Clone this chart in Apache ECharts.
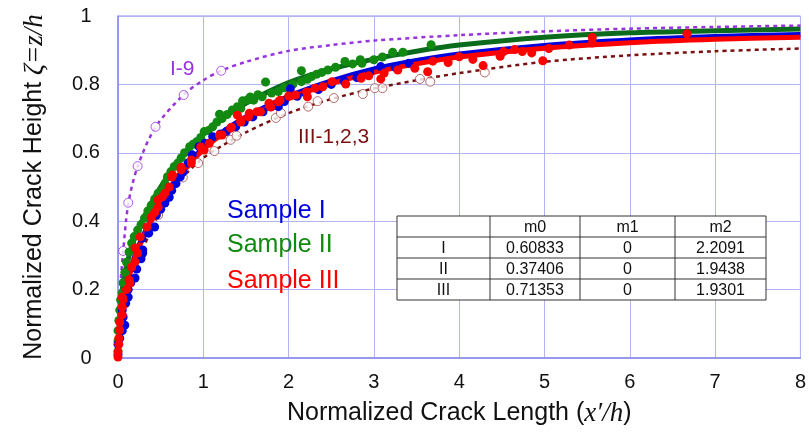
<!DOCTYPE html>
<html><head><meta charset="utf-8">
<script src="https://cdn.jsdelivr.net/npm/echarts@6/dist/echarts.min.js"></script>
<style>html,body{margin:0;padding:0;background:#fff}#c{width:809px;height:437px}</style>
</head><body><div id="c"></div>
<script>
// ---- data ----
const xTicks = [0,1,2,3,4,5,6,7,8];
const yTicks = [0,0.2,0.4,0.6,0.8,1];

const sampleII = [[0,0.02],[0,0.05],[0,0.08],[0.01,0.11],[0.02,0.14],[0.03,0.17],[0.05,0.19],[0.06,0.22],[0.08,0.25],[0.1,0.28],[0.13,0.31],[0.16,0.336],[0.19,0.355],[0.23,0.374],[0.27,0.39],[0.31,0.409],[0.35,0.43],[0.39,0.447],[0.43,0.465],[0.47,0.482],[0.51,0.49],[0.55,0.51],[0.58,0.53],[0.62,0.545],[0.66,0.56],[0.7,0.57],[0.74,0.585],[0.78,0.6],[0.84,0.618],[0.88,0.625],[0.92,0.632],[0.97,0.645],[1.01,0.662],[1.06,0.665],[1.11,0.676],[1.16,0.69],[1.19,0.713],[1.22,0.70],[1.28,0.712],[1.34,0.725],[1.40,0.735],[1.44,0.73],[1.46,0.752],[1.52,0.755],[1.55,0.763],[1.59,0.754],[1.64,0.77],[1.69,0.764],[1.73,0.807],[1.80,0.775],[1.88,0.779],[1.95,0.79],[2.05,0.80],[2.15,0.808],[2.15,0.84],[2.22,0.815],[2.27,0.823],[2.33,0.83],[2.39,0.835],[2.46,0.842],[2.55,0.85],[2.66,0.867],[2.75,0.86],[2.84,0.872],[2.86,0.862],[3.0,0.872],[3.1,0.88],[3.22,0.894],[3.34,0.894],[3.67,0.916]];

const sampleI = [[0,0.01],[0,0.04],[0.02,0.058],[0.05,0.08],[0.08,0.096],[0.06,0.12],[0.05,0.14],[0.09,0.16],[0.12,0.178],[0.12,0.2],[0.15,0.22],[0.2,0.234],[0.22,0.26],[0.27,0.29],[0.29,0.307],[0.29,0.316],[0.28,0.35],[0.36,0.365],[0.43,0.383],[0.45,0.418],[0.5,0.435],[0.55,0.453],[0.6,0.47],[0.63,0.49],[0.68,0.51],[0.73,0.53],[0.76,0.544],[0.82,0.57],[0.87,0.594],[0.95,0.618],[1.02,0.628],[1.11,0.647],[1.2,0.655],[1.27,0.662],[1.38,0.676],[1.48,0.69],[1.58,0.705],[1.7,0.72],[1.8,0.735],[1.88,0.735],[1.95,0.75],[2.02,0.787],[2.1,0.765],[2.2,0.775],[2.35,0.785],[2.5,0.8],[2.65,0.81],[2.8,0.82],[2.95,0.835],[3.08,0.852],[3.25,0.85],[3.41,0.862]];

const sampleIII = [[0,0.003],[0,0.018],[0.01,0.04],[0.01,0.058],[0.02,0.082],[0.02,0.105],[0.05,0.126],[0.05,0.149],[0.06,0.17],[0.05,0.178],[0.1,0.2],[0.13,0.228],[0.14,0.219],[0.16,0.266],[0.2,0.281],[0.23,0.307],[0.2,0.322],[0.26,0.354],[0.34,0.383],[0.39,0.412],[0.43,0.425],[0.47,0.441],[0.47,0.462],[0.52,0.471],[0.55,0.482],[0.6,0.5],[0.63,0.529],[0.64,0.535],[0.74,0.55],[0.74,0.558],[0.86,0.57],[0.86,0.579],[0.97,0.617],[1.01,0.608],[1.07,0.628],[1.19,0.652],[1.22,0.652],[1.32,0.672],[1.33,0.675],[1.4,0.71],[1.44,0.69],[1.44,0.696],[1.53,0.705],[1.54,0.716],[1.63,0.72],[1.67,0.72],[1.77,0.745],[1.79,0.734],[1.88,0.749],[1.9,0.754],[2.0,0.766],[2.08,0.769],[2.21,0.778],[2.22,0.764],[2.31,0.789],[2.4,0.793],[2.51,0.808],[2.67,0.801],[2.85,0.818],[2.94,0.825],[3.08,0.816],[3.12,0.833],[3.28,0.842],[3.48,0.847],[3.63,0.837],[3.69,0.868],[3.87,0.864],[4.0,0.881],[4.16,0.873],[4.28,0.855],[4.48,0.882],[4.52,0.896],[4.65,0.902],[4.74,0.896],[4.85,0.892],[4.98,0.869],[5.05,0.905],[5.29,0.915],[5.56,0.937],[5.56,0.921],[6.67,0.948]];

const circlesI9 = [[0.06,0.313],[0.12,0.454],[0.23,0.561],[0.44,0.676],[0.77,0.769],[1.21,0.84]];
const circlesIII = [[0.47,0.418],[0.76,0.528],[0.94,0.57],[1.13,0.605],[1.32,0.638],[1.39,0.65],[1.85,0.702],[1.91,0.716],[2.23,0.735],[2.34,0.751],[2.53,0.76],[2.87,0.772],[3.01,0.789],[3.1,0.789],[3.54,0.816],[3.66,0.808],[4.3,0.835]];

const curveI9 = [[0,0],[0.01,0.12],[0.03,0.22],[0.06,0.31],[0.12,0.45],[0.23,0.56],[0.44,0.675],[0.77,0.77],[1.0,0.812],[1.21,0.84],[1.5,0.866],[2,0.898],[2.5,0.915],[3,0.928],[4,0.944],[5,0.955],[6,0.963],[7,0.968],[8,0.972]];
const curveIII123 = [[0,0],[0.05,0.14],[0.1,0.19],[0.2,0.27],[0.3,0.325],[0.5,0.43],[0.75,0.525],[1,0.585],[1.25,0.625],[1.5,0.66],[2,0.716],[2.5,0.757],[3,0.788],[3.5,0.812],[4,0.833],[5,0.866],[6,0.885],[7,0.897],[8,0.905]];

const fitX   = [0, 0.02, 0.05, 0.1, 0.2, 0.3, 0.5, 0.75, 1, 1.25, 1.5, 2, 2.5, 3, 3.5, 4, 5, 6, 7, 8];
const fitI   = [0, 0.09, 0.15, 0.215, 0.3, 0.36, 0.455, 0.545, 0.615, 0.665, 0.705, 0.765, 0.81, 0.845, 0.87, 0.889, 0.914, 0.93, 0.94, 0.946];
const fitII  = [0, 0.12, 0.2, 0.27, 0.355, 0.41, 0.5, 0.59, 0.655, 0.705, 0.745, 0.805, 0.845, 0.874, 0.897, 0.915, 0.938, 0.951, 0.957, 0.962];
const fitIII = [0, 0.09, 0.15, 0.21, 0.295, 0.355, 0.45, 0.54, 0.61, 0.66, 0.7, 0.758, 0.802, 0.835, 0.86, 0.88, 0.906, 0.922, 0.932, 0.938];

const tableHeader = ['', 'm0', 'm1', 'm2'];
const tableRows = [
  ['I', '0.60833', '0', '2.2091'],
  ['II', '0.37406', '0', '1.9438'],
  ['III', '0.71353', '0', '1.9301']
];
const sampleNames = ['Sample I', 'Sample II', 'Sample III'];
// ---------------------------------------

const C_BLUE = '#0000dd', C_GREEN = '#128a12', C_GREEN_LINE = '#0b6b1c', C_RED = '#ff0000';
const C_PURPLE = '#9933dd', C_DRED = '#7a1010', C_GRID = '#b4b4f2', C_AXIS = '#8c8cec';
const SANS = '"Liberation Sans", Arial, sans-serif';

const zip = (xs, ys) => xs.map((x, i) => [x, ys[i]]);

// table + annotation graphic
const colB = [397, 490, 580, 675, 766];
const rowB = [216, 237, 258, 279, 300];
const gfx = [];
gfx.push({type:'rect', shape:{x:colB[0], y:rowB[0], width:colB[4]-colB[0], height:rowB[4]-rowB[0]}, style:{fill:'#fff', stroke:'#333', lineWidth:1}, z:10});
for (let i=1;i<colB.length-1;i++) gfx.push({type:'line', shape:{x1:colB[i],y1:rowB[0],x2:colB[i],y2:rowB[4]}, style:{stroke:'#333',lineWidth:1}, z:11});
for (let j=1;j<rowB.length-1;j++) gfx.push({type:'line', shape:{x1:colB[0],y1:rowB[j],x2:colB[4],y2:rowB[j]}, style:{stroke:'#333',lineWidth:1}, z:11});
[tableHeader].concat(tableRows).forEach((row, r) => {
  row.forEach((t, c) => {
    gfx.push({type:'text', z:12, style:{text:t, x:(colB[c]+colB[c+1])/2, y:(rowB[r]+rowB[r+1])/2+1, textAlign:'center', textVerticalAlign:'middle', font:'16px ' + SANS, fill:'#111'}});
  });
});
const sampleColors = [C_BLUE, C_GREEN, C_RED];
const sampleY = [211, 245, 281];
sampleNames.forEach((n, i) => {
  gfx.push({type:'text', z:12, style:{text:n, x:227, y:sampleY[i], textVerticalAlign:'middle', font:'25px ' + SANS, fill:sampleColors[i]}});
});
gfx.push({type:'text', z:12, style:{text:'I-9', x:170, y:69, textVerticalAlign:'middle', font:'21px ' + SANS, fill:C_PURPLE}});
gfx.push({type:'text', z:12, style:{text:'III-1,2,3', x:298, y:137, textVerticalAlign:'middle', font:'21px ' + SANS, fill:C_DRED}});

const chart = echarts.init(document.getElementById('c'), null, {renderer:'canvas'});
const fitLine = (data, color) => ({type:'line', data, smooth:0.3, symbol:'none', lineStyle:{color, width:5}, z:2, silent:true});
const dots = (data, color, z) => ({type:'scatter', data, symbol:'circle', symbolSize:9, itemStyle:{color, opacity:1}, z});
const nameStyle = {color:'#111', fontSize:25, fontFamily:SANS,
  rich:{it:{fontFamily:'"Liberation Serif", serif', fontStyle:'italic', fontSize:27, color:'#111'}}};

chart.setOption({
  animation:false,
  grid:{left:118, right:3, top:16, bottom:79, show:true, borderColor:C_AXIS, borderWidth:1, backgroundColor:'transparent'},
  xAxis:{type:'value', min:0, max:8, interval:1,
    axisLine:{show:true, lineStyle:{color:C_AXIS, width:1.5}}, axisTick:{show:false},
    splitLine:{show:true, lineStyle:{color:C_GRID, width:1}},
    axisLabel:{color:'#111', fontSize:20, fontFamily:SANS, margin:14, formatter:v=>String(v)},
    name:'Normalized Crack Length ({it|x\u2032/h})', nameLocation:'middle', nameGap:42,
    nameTextStyle:nameStyle
  },
  yAxis:{type:'value', min:0, max:1, interval:0.2,
    axisLine:{show:true, lineStyle:{color:C_AXIS, width:1.5}}, axisTick:{show:false},
    splitLine:{show:true, lineStyle:{color:C_GRID, width:1}},
    axisLabel:{color:'#111', fontSize:20, fontFamily:SANS, margin:32, align:'center', formatter:v=>String(Math.round(v*10)/10)},
    name:'Normalized Crack Height {it|\u03b6=z/h}', nameLocation:'middle', nameGap:70,
    nameTextStyle:nameStyle
  },
  graphic:gfx,
  series:[
    {type:'line', data:curveI9, smooth:0.3, symbol:'none', lineStyle:{color:C_PURPLE, width:2.5, type:[4,4]}, z:3},
    {type:'line', data:curveIII123, smooth:0.3, symbol:'none', lineStyle:{color:C_DRED, width:2.5, type:[4,4]}, z:3},
    {type:'scatter', data:circlesI9, symbol:'circle', symbolSize:9, itemStyle:{color:'#fff', borderColor:C_PURPLE, borderWidth:1}, z:4},
    {type:'scatter', data:circlesIII, symbol:'circle', symbolSize:9, itemStyle:{color:'#fff', borderColor:'#a04848', borderWidth:1}, z:4},
    dots(sampleII, C_GREEN, 5),
    dots(sampleI, C_BLUE, 6),
    dots(sampleIII, C_RED, 7),
    fitLine(zip(fitX, fitII), C_GREEN_LINE),
    fitLine(zip(fitX, fitI), C_BLUE),
    fitLine(zip(fitX, fitIII), C_RED)
  ]
});
</script></body></html>
